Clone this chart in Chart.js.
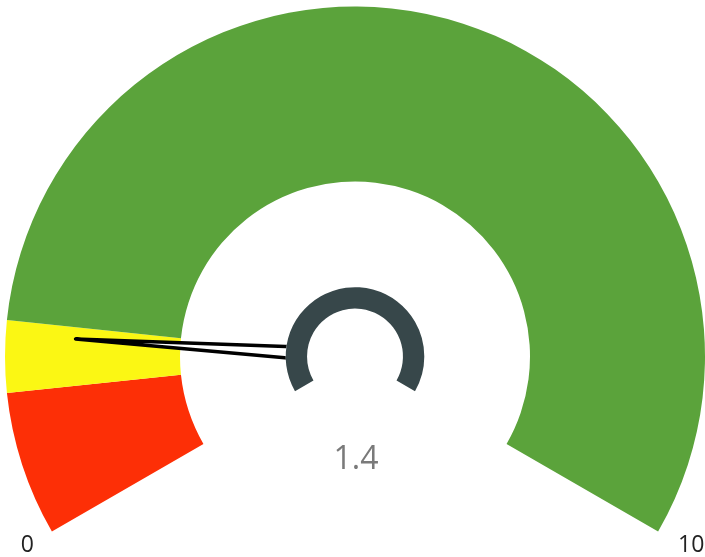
<!DOCTYPE html>
<html>
<head>
<meta charset="utf-8">
<script src="https://cdn.jsdelivr.net/npm/chart.js@4/dist/chart.umd.min.js"></script>
<style>
  html, body { margin: 0; padding: 0; background: #fff; }
  #wrap { width: 705px; height: 557px; }
</style>
</head>
<body>
<div id="wrap"><canvas id="gauge"></canvas></div>
<script>
// gauge bands (width of each band on the 0..10 scale)
const bandLabels = ['Low', 'Medium', 'High']
const bandSizes = [1, 0.5, 8.5]
const bandColors = ['#fd2f06', '#fbf714', '#5ba33b']
const scaleMin = 0
const scaleMax = 10
const gaugeValue = 1.4

// needle, hub and labels drawn on top of the doughnut
const gaugeExtras = {
    id: 'gaugeExtras',
    afterDatasetsDraw(chart) {
        const arc = chart.getDatasetMeta(0).data[0]
        if (!arc) return
        const { x, y, outerRadius } = arc.getProps(['x', 'y', 'outerRadius'], true)
        const ctx = chart.ctx
        const start = Math.PI * 5 / 6
        const sweep = Math.PI * 4 / 3
        const angle = start + sweep * (gaugeValue - scaleMin) / (scaleMax - scaleMin)

        // needle
        const tipR = outerRadius * 0.8
        const halfBase = 7.5
        ctx.save()
        ctx.beginPath()
        ctx.moveTo(x + Math.cos(angle) * tipR, y + Math.sin(angle) * tipR)
        ctx.lineTo(x + Math.cos(angle + Math.PI / 2) * halfBase, y + Math.sin(angle + Math.PI / 2) * halfBase)
        ctx.lineTo(x + Math.cos(angle - Math.PI / 2) * halfBase, y + Math.sin(angle - Math.PI / 2) * halfBase)
        ctx.closePath()
        ctx.fillStyle = '#fff'
        ctx.fill()
        ctx.lineWidth = 3.5
        ctx.lineJoin = 'round'
        ctx.strokeStyle = '#000'
        ctx.stroke()

        // hub
        const hubOuter = outerRadius * 0.198
        const hubInner = outerRadius * 0.137
        ctx.beginPath()
        ctx.arc(x, y, hubOuter, 0, Math.PI * 2)
        ctx.fillStyle = '#fff'
        ctx.fill()
        ctx.beginPath()
        ctx.arc(x, y, hubOuter, start, start + sweep)
        ctx.arc(x, y, hubInner, start + sweep, start, true)
        ctx.closePath()
        ctx.fillStyle = '#37474a'
        ctx.fill()

        // value text
        ctx.fillStyle = '#7a7a7a'
        ctx.font = '32px "Open Sans", sans-serif'
        ctx.textAlign = 'center'
        ctx.textBaseline = 'middle'
        ctx.fillText(String(gaugeValue), x + 1, y + 103)

        // min / max labels
        const endY = y + Math.sin(start) * outerRadius
        ctx.fillStyle = '#222'
        ctx.font = '23px "Open Sans", sans-serif'
        ctx.textAlign = 'right'
        ctx.fillText(String(scaleMin), x + Math.cos(start) * outerRadius - 18, endY + 14)
        ctx.textAlign = 'left'
        ctx.fillText(String(scaleMax), x + Math.cos(start + sweep) * outerRadius + 20, endY + 14)
        ctx.restore()
    }
}

const ctx = document.getElementById('gauge').getContext('2d')
new Chart(ctx, {
    type: 'doughnut',
    data: {
        labels: bandLabels,
        datasets: [{
            data: bandSizes,
            backgroundColor: bandColors,
            borderWidth: 0
        }]
    },
    options: {
        responsive: true,
        maintainAspectRatio: false,
        animation: false,
        rotation: -120,
        circumference: 240,
        cutout: '50%',
        layout: { padding: { top: 6, bottom: 25, left: 5, right: 0 } },
        plugins: {
            legend: { display: false },
            tooltip: { enabled: false }
        }
    },
    plugins: [gaugeExtras]
})
</script>
</body>
</html>
